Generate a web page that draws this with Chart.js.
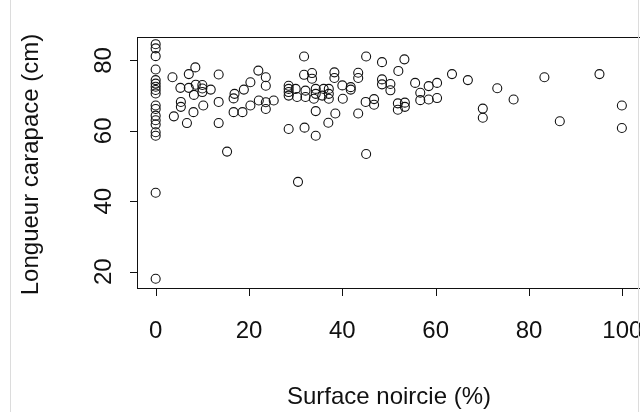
<!DOCTYPE html>
<html>
<head>
<meta charset="utf-8">
<script src="https://cdn.jsdelivr.net/npm/chart.js@4"></script>
<style>
  html, body { margin: 0; padding: 0; background: #fff; overflow: hidden; }
  #wrap { position: relative; width: 640px; height: 412px; overflow: hidden; }
  canvas { position: absolute; left: 0; top: 0; }
  .edgeL { position: absolute; left: 10px; top: 0; width: 1px; height: 412px; background: #dcdcdc; }
  .edgeR { position: absolute; left: 638px; top: 0; width: 1px; height: 412px; background: #dcdcdc; }
</style>
</head>
<body>
<div id="wrap">
  <canvas id="c" width="660" height="412"></canvas>
  <div class="edgeL"></div>
  <div class="edgeR"></div>
</div>
<script>
// ---- data ----
const surface = [
  0,0,0,0,0,0,0,0,0,0,0,0,0,0,0,0,0,0,
  3.6,7.1,8.5,13.5,
  5.3,7.1,8.6,10.0,10.0,10.0,11.8,8.2,
  5.4,5.4,3.9,8.1,6.7,10.2,13.5,13.5,15.3,16.7,16.7,16.9,
  18.9,20.3,22.0,23.6,23.6,18.6,20.3,22.1,23.6,23.6,25.3,
  28.5,28.5,28.5,28.5,
  31.8,31.8,33.5,33.5,
  30.0,30.3,32.1,32.1,34.3,34.3,33.9,36.0,35.7,37.1,37.1,37.1,38.3,38.3,40.0,41.8,41.8,43.4,43.4,40.1,
  28.5,31.9,34.3,34.3,37.0,38.5,43.4,30.5,
  45.1,48.5,53.3,52.0,48.5,48.5,50.3,50.3,55.6,56.7,56.7,45.0,46.8,46.8,51.9,51.9,53.4,53.4,45.1,58.5,60.3,58.5,60.3,
  63.5,66.9,73.2,70.1,70.1,76.7,83.3,86.6,95.1,99.9,99.9
];
const longueur = [
  84.6,83.4,81.2,77.4,74.4,73.4,72.5,71.6,70.6,67.2,66.2,64.3,63.0,61.8,59.6,58.6,42.4,18.0,
  75.2,76.1,78.0,76.0,
  72.2,72.2,73.1,73.0,72.0,71.0,71.7,70.2,
  68.2,66.8,64.1,65.3,62.2,67.2,68.2,62.2,54.1,65.3,69.2,70.5,
  71.7,73.8,77.1,75.2,72.8,65.3,67.2,68.6,68.1,66.2,68.6,
  72.8,71.9,71.0,70.0,
  81.1,75.9,76.4,74.8,
  71.9,69.6,71.4,69.6,71.9,70.5,69.1,71.9,70.0,71.9,70.5,69.1,76.6,75.0,72.9,72.4,71.7,76.5,75.0,69.1,
  60.5,60.9,58.6,65.6,62.3,64.9,64.9,45.5,
  81.1,79.5,80.3,77.0,74.6,73.2,73.3,71.5,73.6,70.8,68.7,68.2,69.0,67.4,67.8,66.0,68.0,66.8,53.4,72.7,73.6,68.9,69.3,
  76.1,74.4,72.1,66.3,63.7,68.9,75.2,62.7,76.1,67.2,60.8
];
const xTicks = [0, 20, 40, 60, 80, 100];
const yTicks = [20, 40, 60, 80];
const xTitle = "Surface noircie (%)";
const yTitle = "Longueur carapace (cm)";

const points = surface.map((s, i) => ({ x: s, y: longueur[i] }));

const FONT = '24px "Liberation Sans", Arial, sans-serif';
const INK = '#111';

const rAxes = {
  id: 'rAxes',
  afterDraw(chart) {
    const ctx = chart.ctx;
    const a = chart.chartArea;
    const xs = chart.scales.x, ys = chart.scales.y;
    ctx.save();
    ctx.strokeStyle = INK;
    ctx.lineWidth = 1;
    // box
    ctx.strokeRect(Math.round(a.left) + 0.5, Math.round(a.top) + 0.5,
                   Math.round(a.right - a.left), Math.round(a.bottom - a.top));
    ctx.fillStyle = INK;
    ctx.font = FONT;
    // x ticks
    ctx.textAlign = 'center';
    ctx.textBaseline = 'middle';
    xTicks.forEach(v => {
      const px = Math.round(xs.getPixelForValue(v)) + 0.5;
      ctx.beginPath();
      ctx.moveTo(px, Math.round(a.bottom));
      ctx.lineTo(px, Math.round(a.bottom) + 8);
      ctx.stroke();
      ctx.fillText(String(v), xs.getPixelForValue(v), 331);
    });
    // y ticks
    yTicks.forEach(v => {
      const py = Math.round(ys.getPixelForValue(v)) + 0.5;
      ctx.beginPath();
      ctx.moveTo(Math.round(a.left) - 7, py);
      ctx.lineTo(Math.round(a.left), py);
      ctx.stroke();
      ctx.save();
      ctx.translate(104, ys.getPixelForValue(v));
      ctx.rotate(-Math.PI / 2);
      ctx.fillText(String(v), 0, 0);
      ctx.restore();
    });
    // titles
    ctx.fillText(xTitle, (a.left + a.right) / 2, 397);
    ctx.save();
    ctx.translate(31, (a.top + a.bottom) / 2 + 2);
    ctx.rotate(-Math.PI / 2);
    ctx.fillText(yTitle, 0, 0);
    ctx.restore();
    ctx.restore();
  }
};

new Chart(document.getElementById('c'), {
  type: 'scatter',
  data: {
    datasets: [{
      data: points,
      pointStyle: 'circle',
      pointRadius: 4.5,
      pointHoverRadius: 4.5,
      borderWidth: 1.1,
      borderColor: INK,
      backgroundColor: 'rgba(0,0,0,0)'
    }]
  },
  options: {
    responsive: false,
    animation: false,
    events: [],
    layout: { padding: { left: 137, top: 37, right: 19, bottom: 124 } },
    plugins: { legend: { display: false }, tooltip: { enabled: false } },
    scales: {
      x: { type: 'linear', min: -4, max: 104, display: false },
      y: { type: 'linear', min: 15.36, max: 86.64, display: false }
    }
  },
  plugins: [rAxes]
});
</script>
</body>
</html>
